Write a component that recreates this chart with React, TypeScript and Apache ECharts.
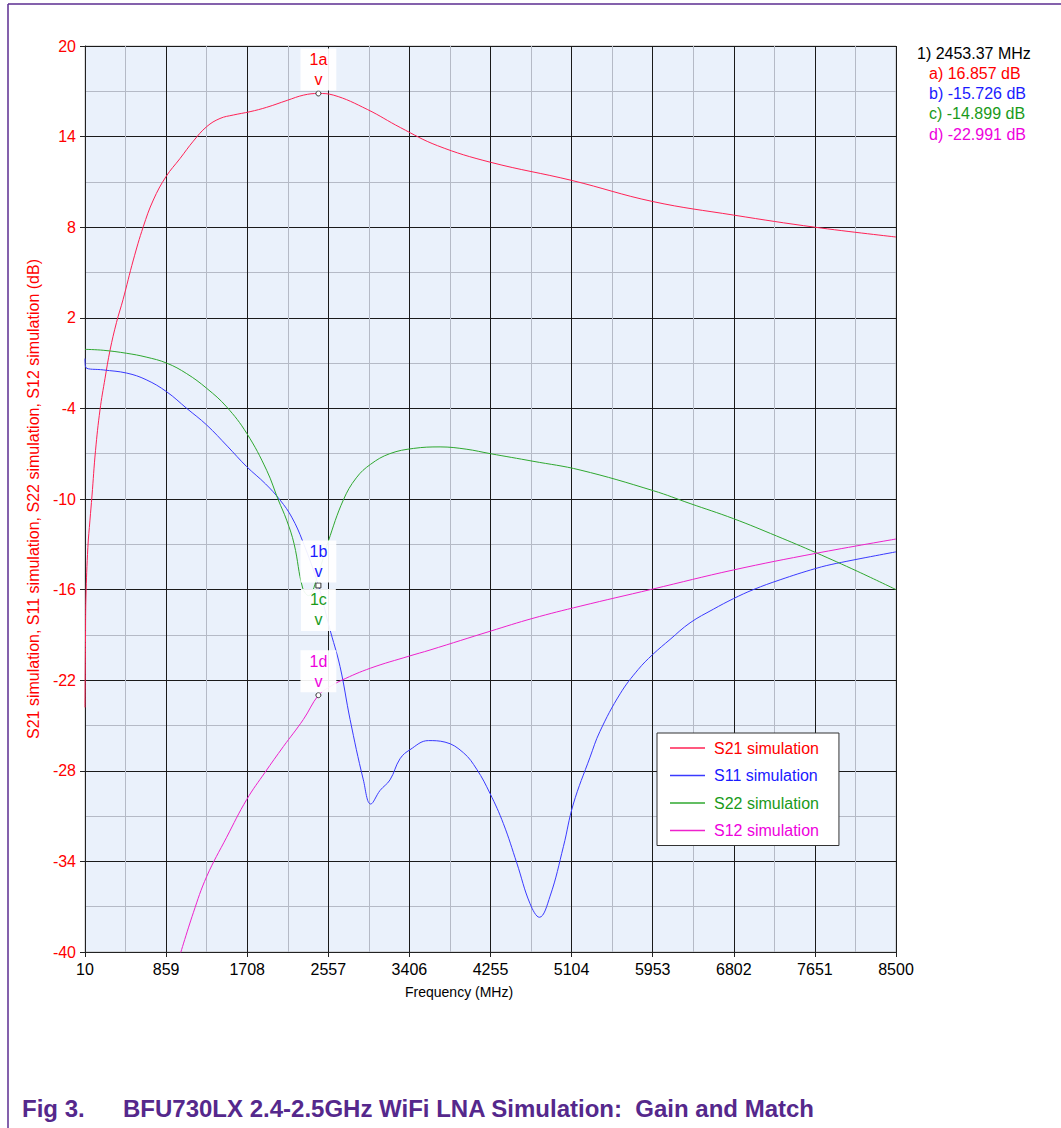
import React, { useEffect, useRef } from "react";
import * as echarts from "echarts";

// ---------- data ----------
const xTickMin = 10;
const xTickMax = 8500;
const xTickStep = 849;
const yMin = -40;
const yMax = 20;
const yStep = 6;

const seriesNames = ["S21 simulation", "S11 simulation", "S22 simulation", "S12 simulation"];

const s21Freq = [10, 15, 20, 40, 62, 83, 120, 167, 220, 272, 340, 408, 516, 620, 725, 858, 1005, 1144, 1284, 1423, 1563, 1738, 1912, 2127, 2300, 2453.37, 2609, 2965, 3311, 3700, 4255, 5104, 5953, 6802, 7651, 8500];
const s21Vals = [-23.8, -19.5, -16.5, -13.2, -11.4, -9.8, -6.8, -4.1, -2.0, -0.15, 1.7, 3.2, 5.83, 8.03, 9.8, 11.35, 12.55, 13.7, 14.66, 15.2, 15.43, 15.65, 15.94, 16.4, 16.75, 16.857, 16.75, 15.8, 14.6, 13.4, 12.3, 11.1, 9.7, 8.8, 8.0, 7.35];

const s11Freq = [10, 20, 200, 446, 650, 865, 1075, 1284, 1500, 1703, 1900, 2052, 2174, 2289, 2453.37, 2568, 2680, 2785, 2924, 3001, 3099, 3203, 3308, 3413, 3605, 3779, 3971, 4111, 4250, 4390, 4530, 4669, 4767, 4879, 5019, 5122, 5297, 5400, 5612, 5800, 5953, 6135, 6344, 6588, 6798, 7007, 7287, 7660, 7880, 8500];
const s11Vals = [-0.7, -1.3, -1.45, -1.66, -2.1, -2.9, -4.0, -5.1, -6.5, -7.86, -9.0, -10.07, -11.2, -12.8, -15.726, -18.5, -21.1, -24.6, -28.6, -30.2, -29.3, -28.6, -27.2, -26.6, -26.0, -26.1, -26.8, -27.9, -29.5, -31.5, -34.1, -36.8, -37.7, -36.3, -33.0, -30.2, -27.1, -25.4, -22.9, -21.3, -20.3, -19.3, -18.2, -17.3, -16.6, -16.0, -15.35, -14.6, -14.26, -13.5];

const s22Freq = [10, 200, 446, 650, 865, 1075, 1284, 1493, 1703, 1912, 2034, 2121, 2200, 2289, 2350, 2453.37, 2557, 2714, 2850, 3000, 3200, 3450, 3727, 4000, 4255, 4700, 5193, 5960, 6344, 6798, 7250, 7660, 8100, 8500];
const s22Vals = [-0.09, -0.15, -0.35, -0.6, -1.0, -1.7, -2.67, -3.9, -5.65, -8.1, -10.07, -11.4, -13.0, -15.9, -16.4, -14.899, -12.8, -10.07, -8.6, -7.7, -7.0, -6.65, -6.55, -6.7, -7.0, -7.5, -8.08, -9.45, -10.3, -11.3, -12.45, -13.55, -14.8, -16.0];

const s12Freq = [990, 1144, 1284, 1493, 1703, 1895, 2086, 2296, 2453.37, 2557, 2698, 3000, 3406, 3622, 4255, 4700, 5193, 5943, 6798, 7660, 8500];
const s12Vals = [-40.5, -37.4, -35.0, -32.4, -29.9, -28.1, -26.4, -24.6, -22.991, -22.5, -22.0, -21.2, -20.4, -20.0, -18.75, -17.9, -17.1, -15.98, -14.7, -13.6, -12.65];

const markerFreq = 2453.37;
const markerVals = [16.857, -15.726, -14.899, -22.991];
const markerNames = ["1a", "1b", "1c", "1d"];
const markerReadout = ["1) 2453.37 MHz", "a) 16.857 dB", "b) -15.726 dB", "c) -14.899 dB", "d) -22.991 dB"];

const caption = "Fig 3.";
const captionTitle = "BFU730LX 2.4-2.5GHz WiFi LNA Simulation:  Gain and Match";
const xAxisTitle = "Frequency (MHz)";
const yAxisTitle = "S21 simulation, S11 simulation, S22 simulation, S12 simulation (dB)";

// ---------- styling ----------
const lineColors = ["#FF2255", "#3a3aff", "#2fa82f", "#ee22cc"];
const textColors = ["#ff0000", "#1a1aff", "#1a9a1a", "#ee00dd"];
const FONT = "Arial, 'Liberation Sans', sans-serif";

function pairs(xs: number[], ys: number[]) {
  return xs.map((x, i) => [x, ys[i]]);
}

export default function App() {
  const ref = useRef<HTMLDivElement>(null);
  useEffect(() => {
    document.body.style.margin = "0";
    const chart = echarts.init(ref.current!, null, { renderer: "svg" });
    const datasets = [pairs(s21Freq, s21Vals), pairs(s11Freq, s11Vals), pairs(s22Freq, s22Vals), pairs(s12Freq, s12Vals)];
    const labelOffsets = [[0, -24], [0, -24], [0, 37], [0, -24]];
    const markerSymbols = ["circle", "rect", "circle", "circle"];
    const markerSizes = [5, 5, 2, 5];

    const series: any[] = seriesNames.map((name, i) => ({
      name,
      type: "line",
      data: datasets[i],
      symbol: "none",
      smooth: 0.4,
      clip: true,
      lineStyle: { color: lineColors[i], width: 1 },
      itemStyle: { color: lineColors[i] },
      z: 2,
      markPoint: {
        symbol: markerSymbols[i],
        symbolSize: markerSizes[i],
        itemStyle:
          i === 2
            ? { color: "rgba(255,255,255,0)", borderColor: "rgba(255,255,255,0)", borderWidth: 0 }
            : { color: "#ffffff", borderColor: "#333", borderWidth: 1 },
        z: 5 + i,
        data: [
          {
            coord: [markerFreq, markerVals[i]],
            label: {
              show: true,
              position: "inside",
              offset: labelOffsets[i],
              formatter: markerNames[i] + "\nv",
              color: textColors[i],
              fontFamily: FONT,
              fontSize: 16,
              lineHeight: 20,
              backgroundColor: "rgba(255,255,255,0.92)",
              padding: [1, 9, 1, 9],
            },
          },
        ],
      },
    }));

    const graphics: any[] = [
      { type: "line", shape: { x1: 8, y1: 4, x2: 1061, y2: 4 }, style: { stroke: "#5b2c91", lineWidth: 1.5 } },
      { type: "line", shape: { x1: 8, y1: 4, x2: 8, y2: 1128 }, style: { stroke: "#5b2c91", lineWidth: 1.5 } },
      {
        type: "text",
        left: 405,
        top: 985,
        style: { text: xAxisTitle, fill: "#000", font: `14px ${FONT}` },
      },
      {
        type: "text",
        left: 22,
        top: 1096,
        style: { text: caption, fill: "#55288c", font: `bold 24px ${FONT}` },
      },
      {
        type: "text",
        left: 123,
        top: 1096,
        style: { text: captionTitle, fill: "#55288c", font: `bold 24px ${FONT}` },
      },
    ];
    markerReadout.forEach((t, i) => {
      graphics.push({
        type: "text",
        left: i === 0 ? 917 : 929,
        top: 45 + i * 20.3,
        style: { text: t, fill: i === 0 ? "#000" : textColors[i - 1], font: `16px ${FONT}` },
      });
    });

    chart.setOption({
      animation: false,
      backgroundColor: "#ffffff",
      grid: {
        left: 85,
        right: 165,
        top: 46,
        bottom: 176,
        show: true,
        backgroundColor: "#eaf1fb",
        borderColor: "#bbbbbb",
        borderWidth: 1,
      },
      legend: {
        orient: "vertical",
        left: 657,
        top: 733,
        padding: [7, 20, 7, 13],
        icon: "rect",
        itemWidth: 35,
        itemHeight: 1.5,
        itemGap: 11.5,
        backgroundColor: "#ffffff",
        borderColor: "#333",
        borderWidth: 1,
        textStyle: { fontFamily: FONT, fontSize: 16, lineHeight: 16, padding: [0, 0, 0, 4] },
        data: seriesNames.map((n, i) => ({
          name: n,
          itemStyle: { color: lineColors[i], borderWidth: 0 },
          textStyle: { color: textColors[i] },
        })),
      },
      xAxis: {
        type: "value",
        min: xTickMin,
        max: xTickMax,
        interval: xTickStep,
        axisLine: { show: true, onZero: false, lineStyle: { color: "#222", width: 1 } },
        axisTick: { show: true, length: 5, lineStyle: { color: "#222" } },
        axisLabel: { color: "#000", fontFamily: FONT, fontSize: 16, margin: 9, formatter: (v: number) => String(Math.round(v)) },
        splitLine: { show: true, lineStyle: { color: "#1a1a1a", width: 1 } },
        minorTick: { show: false, splitNumber: 2 },
        minorSplitLine: { show: true, lineStyle: { color: "#b5bac6", width: 1 } },
      },
      yAxis: {
        type: "value",
        min: yMin,
        max: yMax,
        interval: yStep,
        name: yAxisTitle,
        nameLocation: "middle",
        nameGap: 35,
        nameTextStyle: { color: "#ff0000", fontFamily: FONT, fontSize: 16 },
        axisLine: { show: true, onZero: false, lineStyle: { color: "#222", width: 1 } },
        axisTick: { show: true, length: 5, lineStyle: { color: "#222" } },
        axisLabel: { color: "#ff0000", fontFamily: FONT, fontSize: 16, margin: 9, formatter: (v: number) => String(Math.round(v)) },
        splitLine: { show: true, lineStyle: { color: "#1a1a1a", width: 1 } },
        minorTick: { show: false, splitNumber: 2 },
        minorSplitLine: { show: true, lineStyle: { color: "#b5bac6", width: 1 } },
      },
      series,
      graphic: graphics,
    });
    return () => chart.dispose();
  }, []);
  return <div ref={ref} style={{ position: "absolute", left: 0, top: 0, width: 1061, height: 1128 }} />;
}
